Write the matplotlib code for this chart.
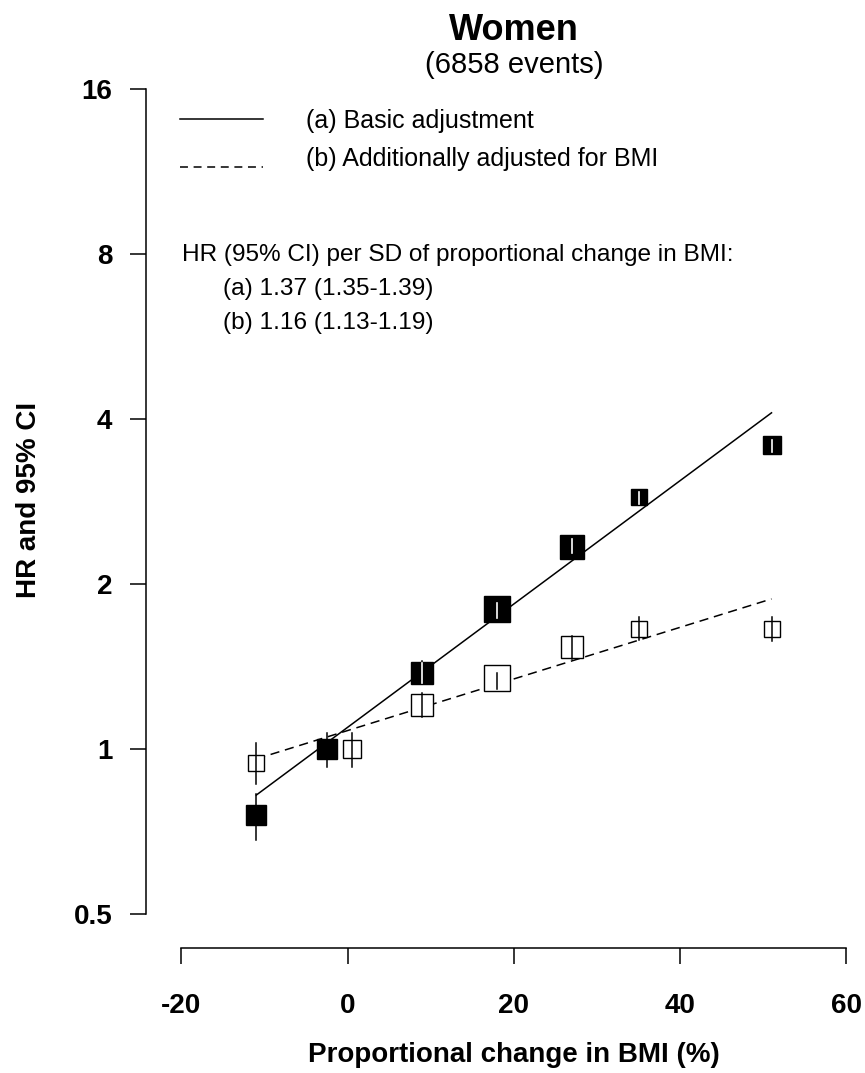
import matplotlib
matplotlib.use("Agg")
import matplotlib.pyplot as plt
from matplotlib.lines import Line2D
from matplotlib.ticker import NullLocator
import numpy as np

plt.rcParams['font.family'] = ['Liberation Sans', 'DejaVu Sans']

# (a) basic adjustment -> filled squares
x_a = [-11, -2.5, 9, 18, 27, 35, 51]
hr_a = [0.757, 1.0, 1.377, 1.798, 2.338, 2.873, 3.582]
lo_a = [0.681, 0.926, 1.312, 1.731, 2.276, 2.784, 3.478]
hi_a = [0.827, 1.068, 1.446, 1.844, 2.413, 2.946, 3.658]

# (b) additionally adjusted for BMI -> open squares
x_b = [-11, 0.5, 9, 18, 27, 35, 51]
hr_b = [0.942, 1.0, 1.201, 1.346, 1.53, 1.65, 1.653]
lo_b = [0.862, 0.926, 1.142, 1.285, 1.458, 1.579, 1.572]
hi_b = [1.024, 1.068, 1.264, 1.374, 1.606, 1.739, 1.739]

# fitted lines (end points)
fit_x = [-11, 51]
fit_a = [0.823, 4.10]
fit_b = [0.958, 1.876]

x_ticks = [-20, 0, 20, 40, 60]
y_ticks = [0.5, 1, 2, 4, 8, 16]
y_ticklabels = ['0.5', '1', '2', '4', '8', '16']

# box side in pixels (proportional to precision)
box_a = [21, 22, 24, 28, 25, 18, 20]
box_b = [18, 20, 24, 28, 24, 18, 18]

W, H = 865, 1073
fig = plt.figure(figsize=(W / 100, H / 100), dpi=100)

# axes calibration in pixels
x0_px, px_per_x = 347.7, 8.31
y1_px, px_per_dbl = 748.7, 165.0
left, right, top, bottom = 145.7, 880, 60, 947.7

ax = fig.add_axes([left / W, 1 - bottom / H, (right - left) / W, (bottom - top) / H])
ax.set_yscale('log', base=2)
ax.set_xlim((left - x0_px) / px_per_x, (right - x0_px) / px_per_x)
ax.set_ylim(2 ** ((y1_px - bottom) / px_per_dbl), 2 ** ((y1_px - top) / px_per_dbl))

for s in ['top', 'right']:
    ax.spines[s].set_visible(False)
ax.spines['left'].set_bounds(0.5, 16)
ax.spines['bottom'].set_bounds(-20, 60)
for s in ['left', 'bottom']:
    ax.spines[s].set_linewidth(1.1)

ax.set_xticks(x_ticks)
ax.set_xticklabels([str(t) for t in x_ticks])
ax.set_yticks(y_ticks)
ax.set_yticklabels(y_ticklabels)
ax.yaxis.set_minor_locator(NullLocator())
ax.tick_params(axis='both', length=11.5, width=1.1, labelsize=20)
ax.tick_params(axis='y', pad=12.5)
ax.tick_params(axis='x', pad=21)
for lbl in ax.get_xticklabels() + ax.get_yticklabels():
    lbl.set_fontweight('bold')

# fitted lines
ax.plot(fit_x, fit_a, color='k', lw=1.1, zorder=1)
ax.plot(fit_x, fit_b, color='k', lw=1.1, linestyle=(0, (6, 3.8)), zorder=1)

mew = 1.0


def box_limits(x, y, side):
    cx, cy = ax.transData.transform((x, y))
    half = side / 2.0
    inv = ax.transData.inverted()
    return inv.transform((cx, cy - half))[1], inv.transform((cx, cy + half))[1]


# filled squares
for x, y, lo, hi, side in zip(x_a, hr_a, lo_a, hi_a, box_a):
    ax.plot([x, x], [lo, hi], color='k', lw=1.1, zorder=2)
    ax.plot([x], [y], marker='s', color='k', markersize=(side - 1.4) * 0.72,
            mew=mew, mec='k', zorder=3)
    b_lo, b_hi = box_limits(x, y, side)
    if lo >= b_lo * 0.995 and hi <= b_hi * 1.005:
        w_lo = max(lo, box_limits(x, y, side - 4)[0])
        w_hi = min(hi, box_limits(x, y, side - 4)[1])
        ax.plot([x, x], [w_lo, w_hi], color='white', lw=1.2, zorder=4)

# open squares
for x, y, lo, hi, side in zip(x_b, hr_b, lo_b, hi_b, box_b):
    ax.plot([x], [y], marker='s', mfc='white', mec='k', markersize=(side - 1.4) * 0.72,
            mew=mew, zorder=3)
    ax.plot([x, x], [lo, hi], color='k', lw=1.1, zorder=4)


def fx(px):
    return px / W


def fy(py):
    return 1 - py / H


# titles
fig.text(fx(514), fy(40), 'Women', ha='center', va='baseline', fontsize=26, fontweight='bold')
fig.text(fx(514), fy(73), '(6858 events)', ha='center', va='baseline', fontsize=21)

# axis labels
fig.text(fx(29), fy(500), 'HR and 95% CI', rotation=90, ha='center', va='center',
         fontsize=20, fontweight='bold')
fig.text(fx(514), fy(1055), 'Proportional change in BMI (%)', ha='center', va='center',
         fontsize=20, fontweight='bold')

# legend
fig.add_artist(Line2D([fx(180), fx(263)], [fy(119), fy(119)], color='k', lw=1.1))
fig.add_artist(Line2D([fx(180), fx(263)], [fy(167), fy(167)], color='k', lw=1.1,
                      linestyle=(0, (5.2, 3.7))))
fig.text(fx(305.7), fy(121), '(a) Basic adjustment', ha='left', va='center', fontsize=18)
fig.text(fx(305.7), fy(159), '(b) Additionally adjusted for BMI', ha='left', va='center', fontsize=18)

fig.text(fx(181.7), fy(254.5), 'HR (95% CI) per SD of proportional change in BMI:',
         ha='left', va='center', fontsize=17.6)
fig.text(fx(223), fy(288.5), '(a) 1.37 (1.35-1.39)', ha='left', va='center', fontsize=17.6)
fig.text(fx(223), fy(323), '(b) 1.16 (1.13-1.19)', ha='left', va='center', fontsize=17.6)

fig.savefig('out.png', dpi=100)
